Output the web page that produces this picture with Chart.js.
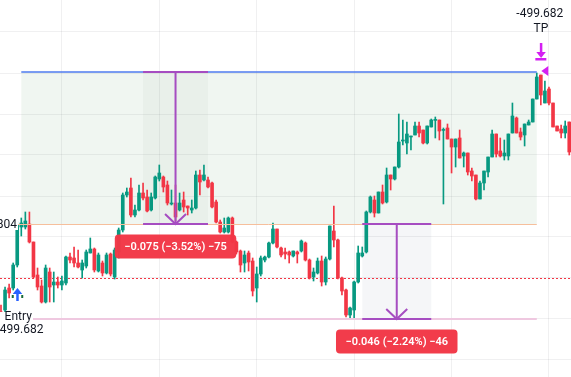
<!DOCTYPE html>
<html>
<head>
<meta charset="utf-8">
<script src="https://cdn.jsdelivr.net/npm/chart.js@4.4.1/dist/chart.umd.min.js"></script>
<style>
  html, body { margin: 0; padding: 0; background: #fff; overflow: hidden; }
  canvas { display: block; }
</style>
</head>
<body>
<canvas id="myChart" width="571" height="377"></canvas>
<script>
// candles (price per bar)
const openP = [
  2.044, 2.045, 2.056, 2.056, 2.0675, 2.0865, 2.0865, 2.088, 2.079, 2.0625,
  2.057, 2.049, 2.064, 2.0575, 2.059, 2.0575, 2.0585, 2.0715, 2.071, 2.0685,
  2.065, 2.067, 2.0735, 2.0755, 2.0645, 2.0685, 2.0635, 2.073, 2.0615, 2.074,
  2.085, 2.1025, 2.106, 2.0925, 2.095, 2.1035, 2.1015, 2.095, 2.101, 2.1105,
  2.1115, 2.1075, 2.098, 2.0985, 2.095, 2.100, 2.097, 2.095, 2.096, 2.1125,
  2.110, 2.110, 2.1085, 2.099, 2.089, 2.084, 2.084, 2.091, 2.079, 2.0745,
  2.0685, 2.0735, 2.0695, 2.056, 2.063, 2.070, 2.0715, 2.0785, 2.0855, 2.076,
  2.074, 2.074, 2.072, 2.074, 2.0745, 2.0785, 2.070, 2.0615, 2.0635, 2.0695,
  2.059, 2.0705, 2.0845, 2.080, 2.061, 2.055, 2.0425, 2.045, 2.059, 2.072,
  2.074, 2.094, 2.100, 2.0935, 2.104, 2.099, 2.1125, 2.1105, 2.1165, 2.1295,
  2.1285, 2.1315, 2.1325, 2.137, 2.135, 2.1285, 2.1365, 2.1398, 2.140, 2.1348,
  2.136, 2.1305, 2.1265, 2.131, 2.122, 2.1235, 2.1145, 2.1125, 2.1005, 2.1085,
  2.114, 2.1215, 2.133, 2.1245, 2.122, 2.122, 2.1335, 2.141, 2.134, 2.1325,
  2.1375, 2.139, 2.1505, 2.1625, 2.1485, 2.1555, 2.1485, 2.137, 2.1355, 2.1335,
  2.139
];
const highP = [
  2.0475, 2.0565, 2.058, 2.0685, 2.0895, 2.091, 2.094, 2.094, 2.079, 2.066,
  2.060, 2.0675, 2.066, 2.064, 2.0615, 2.062, 2.072, 2.0735, 2.0765, 2.075,
  2.070, 2.075, 2.081, 2.076, 2.0735, 2.0695, 2.0735, 2.0735, 2.076, 2.086,
  2.1035, 2.106, 2.111, 2.0975, 2.1075, 2.1085, 2.105, 2.1035, 2.112, 2.1175,
  2.112, 2.1095, 2.105, 2.1075, 2.1035, 2.104, 2.097, 2.100, 2.1145, 2.115,
  2.1175, 2.1115, 2.109, 2.100, 2.090, 2.091, 2.0915, 2.0915, 2.0795, 2.075,
  2.0745, 2.0745, 2.071, 2.0665, 2.072, 2.072, 2.079, 2.0885, 2.0855, 2.0765,
  2.076, 2.0745, 2.0745, 2.0745, 2.080, 2.079, 2.0705, 2.066, 2.071, 2.072,
  2.0715, 2.087, 2.097, 2.0805, 2.0615, 2.0555, 2.0465, 2.0595, 2.077, 2.0765,
  2.0945, 2.102, 2.102, 2.104, 2.1075, 2.116, 2.1125, 2.1165, 2.143, 2.140,
  2.139, 2.132, 2.139, 2.139, 2.135, 2.137, 2.1405, 2.1415, 2.140, 2.136,
  2.138, 2.1305, 2.1305, 2.135, 2.124, 2.1235, 2.116, 2.1125, 2.1095, 2.1145,
  2.1215, 2.135, 2.133, 2.131, 2.130, 2.133, 2.1485, 2.1415, 2.136, 2.138,
  2.140, 2.1505, 2.1635, 2.1625, 2.1595, 2.1565, 2.1485, 2.137, 2.1375, 2.1395,
  2.139
];
const lowP = [
  2.035, 2.044, 2.051, 2.055, 2.0665, 2.082, 2.0855, 2.0785, 2.061, 2.055,
  2.0485, 2.0485, 2.049, 2.049, 2.056, 2.055, 2.0575, 2.0685, 2.0665, 2.066,
  2.061, 2.066, 2.0735, 2.064, 2.064, 2.062, 2.063, 2.062, 2.0605, 2.071,
  2.084, 2.1015, 2.0915, 2.0915, 2.0945, 2.100, 2.094, 2.0945, 2.1005, 2.1095,
  2.104, 2.0975, 2.0975, 2.0895, 2.0945, 2.094, 2.0925, 2.0935, 2.0955, 2.1025,
  2.1095, 2.106, 2.096, 2.0885, 2.0835, 2.0835, 2.0835, 2.0785, 2.073, 2.064,
  2.064, 2.0645, 2.052, 2.049, 2.062, 2.069, 2.071, 2.078, 2.076, 2.0715,
  2.0705, 2.0685, 2.0715, 2.0685, 2.074, 2.0695, 2.0605, 2.0595, 2.063, 2.057,
  2.0575, 2.070, 2.0765, 2.0605, 2.0525, 2.0415, 2.0405, 2.0405, 2.0585, 2.0715,
  2.0735, 2.0935, 2.0915, 2.0935, 2.098, 2.0985, 2.105, 2.110, 2.116, 2.1275,
  2.123, 2.125, 2.1325, 2.1315, 2.128, 2.128, 2.1365, 2.131, 2.130, 2.098,
  2.1305, 2.1135, 2.1165, 2.121, 2.1165, 2.1125, 2.1095, 2.100, 2.1005, 2.105,
  2.1115, 2.1215, 2.1215, 2.1215, 2.120, 2.120, 2.1335, 2.1335, 2.130, 2.127,
  2.1375, 2.139, 2.1505, 2.1475, 2.1485, 2.1475, 2.1365, 2.1345, 2.131, 2.131,
  2.1225
];
const closeP = [
  2.041, 2.055, 2.0535, 2.0675, 2.0875, 2.0885, 2.0895, 2.079, 2.0615, 2.0565,
  2.049, 2.066, 2.0565, 2.059, 2.0575, 2.0595, 2.0715, 2.070, 2.0685, 2.0665,
  2.0685, 2.074, 2.0755, 2.065, 2.0725, 2.0635, 2.0725, 2.063, 2.075, 2.085,
  2.1025, 2.104, 2.0925, 2.095, 2.1035, 2.101, 2.0945, 2.1015, 2.1115, 2.1135,
  2.1065, 2.0985, 2.0985, 2.0915, 2.0985, 2.0965, 2.096, 2.096, 2.1125, 2.109,
  2.1125, 2.1065, 2.0965, 2.089, 2.084, 2.086, 2.091, 2.079, 2.074, 2.0675,
  2.0725, 2.069, 2.0545, 2.063, 2.071, 2.0715, 2.0785, 2.0855, 2.0765, 2.0725,
  2.073, 2.0725, 2.0745, 2.073, 2.0795, 2.070, 2.061, 2.064, 2.0695, 2.059,
  2.0705, 2.087, 2.080, 2.061, 2.0545, 2.0425, 2.046, 2.059, 2.0735, 2.0735,
  2.094, 2.1015, 2.0935, 2.104, 2.0985, 2.1125, 2.1105, 2.1165, 2.129, 2.130,
  2.133, 2.132, 2.137, 2.1335, 2.1285, 2.137, 2.140, 2.140, 2.1345, 2.135,
  2.1305, 2.1265, 2.1305, 2.121, 2.1235, 2.114, 2.112, 2.1005, 2.1085, 2.1145,
  2.1215, 2.133, 2.123, 2.122, 2.1235, 2.133, 2.142, 2.1335, 2.1315, 2.138,
  2.139, 2.1505, 2.1615, 2.1525, 2.1545, 2.1485, 2.1365, 2.1345, 2.1335, 2.137,
  2.124
];

// grid (time lines every 24 bars, price lines)
const gridBars = [15, 39, 63, 87, 111, 135];
const gridPrices = [2.020, 2.0405, 2.061, 2.0815, 2.102, 2.1225, 2.143, 2.1635, 2.184];

// long position + measures
const tpPrice = 2.164;
const entryPrice = 2.088;
const slPrice = 2.0405;
const lastPrice = 2.061;
const positionBars = [5, 132];
const measureFrom = [35, 89];
const measureTo = [51, 106];
const measureTop = [tpPrice, entryPrice];
const measureBottom = [entryPrice, slPrice];
const measureText = ['\u22120.075 (\u22123.52%) \u221275', '\u22120.046 (\u22122.24%) \u221246'];
const measureFill = ['rgba(60,90,70,0.035)', 'rgba(60,70,110,0.05)'];
const entryBar = 4;
const exitBar = 133;

const UP = '#089981', DOWN = '#f23645';
const PURPLE = '#a64dc1', MAGENTA = '#d41ff2', TEXT = '#131722';
const FONT = 'Roboto, "Noto Sans", sans-serif';

let idx = openP.map((o, i) => i);
let colors = idx.map(i => closeP[i] >= openP[i] ? UP : DOWN);

function arrowV(ctx, cx, by, w, h) {
  ctx.beginPath();
  ctx.moveTo(cx - w, by - h);
  ctx.lineTo(cx, by);
  ctx.lineTo(cx + w, by - h);
  ctx.stroke();
}

function roundRect(ctx, x, y, w, h, r) {
  ctx.beginPath();
  ctx.moveTo(x + r, y);
  ctx.arcTo(x + w, y, x + w, y + h, r);
  ctx.arcTo(x + w, y + h, x, y + h, r);
  ctx.arcTo(x, y + h, x, y, r);
  ctx.arcTo(x, y, x + w, y, r);
  ctx.closePath();
}

const drawings = {
  id: 'drawings',
  beforeDatasetsDraw(chart) {
    const ctx = chart.ctx;
    const X = v => chart.scales.x.getPixelForValue(v);
    const Y = v => chart.scales.y.getPixelForValue(v);
    ctx.save();
    // profit zone
    ctx.fillStyle = 'rgba(46,125,50,0.07)';
    ctx.fillRect(X(positionBars[0]), Y(tpPrice), X(positionBars[1]) - X(positionBars[0]), Y(entryPrice) - Y(tpPrice));
    // measure boxes
    for (let k = 0; k < measureFrom.length; k++) {
      ctx.fillStyle = measureFill[k];
      ctx.fillRect(X(measureFrom[k]), Y(measureTop[k]), X(measureTo[k]) - X(measureFrom[k]), Y(measureBottom[k]) - Y(measureTop[k]));
    }
    // last price dotted line
    ctx.strokeStyle = DOWN;
    ctx.lineWidth = 1;
    ctx.setLineDash([2, 2]);
    ctx.beginPath();
    ctx.moveTo(0, Math.round(Y(lastPrice)) + 0.5);
    ctx.lineTo(chart.width, Math.round(Y(lastPrice)) + 0.5);
    ctx.stroke();
    ctx.setLineDash([]);
    ctx.restore();
  },
  afterDatasetsDraw(chart) {
    const ctx = chart.ctx;
    const X = v => chart.scales.x.getPixelForValue(v);
    const Y = v => chart.scales.y.getPixelForValue(v);
    const x0 = X(positionBars[0]), x1 = X(positionBars[1]);
    ctx.save();

    // entry line
    ctx.strokeStyle = '#f6bf9c';
    ctx.lineWidth = 1;
    ctx.beginPath();
    ctx.moveTo(0, Math.round(Y(entryPrice)) + 0.5);
    ctx.lineTo(x1, Math.round(Y(entryPrice)) + 0.5);
    ctx.stroke();
    // stop line
    ctx.strokeStyle = '#efc8e0';
    ctx.lineWidth = 2;
    ctx.beginPath();
    ctx.moveTo(x0, Y(slPrice));
    ctx.lineTo(x1, Y(slPrice));
    ctx.stroke();
    // target line
    ctx.strokeStyle = '#4f7bef';
    ctx.lineWidth = 1.5;
    ctx.beginPath();
    ctx.moveTo(x0, Y(tpPrice));
    ctx.lineTo(x1, Y(tpPrice));
    ctx.stroke();

    // measures
    for (let k = 0; k < measureFrom.length; k++) {
      const a = X(measureFrom[k]), b = X(measureTo[k]);
      const t = Y(measureTop[k]), btm = Y(measureBottom[k]);
      const cx = (a + b) / 2;
      ctx.strokeStyle = PURPLE;
      ctx.lineWidth = 2;
      ctx.beginPath();
      ctx.moveTo(a, t); ctx.lineTo(b, t);
      ctx.moveTo(a, btm); ctx.lineTo(b, btm);
      ctx.moveTo(cx, t); ctx.lineTo(cx, btm);
      ctx.stroke();
      arrowV(ctx, cx, btm, 10.5, 10);

      ctx.font = '600 11px ' + FONT;
      const tw = ctx.measureText(measureText[k]).width;
      const w = tw + 19, h = 24, top = btm + 10.5;
      ctx.fillStyle = 'rgba(242,54,69,0.97)';
      roundRect(ctx, cx - w / 2, top, w, h, 4);
      ctx.fill();
      ctx.fillStyle = '#ffffff';
      ctx.textAlign = 'center';
      ctx.textBaseline = 'middle';
      ctx.fillText(measureText[k], cx, top + h / 2 + 0.5);
    }

    // exit marker (TP)
    const ex = X(exitBar), ty = Y(tpPrice);
    ctx.fillStyle = MAGENTA;
    ctx.beginPath();
    ctx.moveTo(ex + 0.5, ty - 1);
    ctx.lineTo(ex + 7.5, ty - 6);
    ctx.lineTo(ex + 7.5, ty + 4);
    ctx.closePath();
    ctx.fill();
    ctx.fillRect(ex - 1, ty - 29, 2.5, 12);
    ctx.beginPath();
    ctx.moveTo(ex - 4.5, ty - 20);
    ctx.lineTo(ex + 5, ty - 20);
    ctx.lineTo(ex + 0.25, ty - 14);
    ctx.closePath();
    ctx.fill();
    ctx.fillRect(ex - 5.5, ty - 14, 11, 2.5);
    ctx.fillStyle = TEXT;
    ctx.font = '12px ' + FONT;
    ctx.textAlign = 'center';
    ctx.textBaseline = 'middle';
    ctx.fillText('-499.682', ex - 1, ty - 58);
    ctx.fillText('TP', ex, ty - 43);

    // entry marker
    const nx = X(entryBar), ly = Y(lowP[3]);
    ctx.fillStyle = '#2962ff';
    ctx.beginPath();
    ctx.moveTo(nx + 0.25, ly - 2);
    ctx.lineTo(nx + 5, ly + 4);
    ctx.lineTo(nx - 4.5, ly + 4);
    ctx.closePath();
    ctx.fill();
    ctx.fillRect(nx - 1, ly + 3, 2.5, 8);
    ctx.fillStyle = '#1b6b3a';
    ctx.fillRect(nx - 5.5, ly + 5, 2, 3);
    ctx.fillRect(nx + 4, ly + 5, 2, 3);

    ctx.font = '12px ' + FONT;
    ctx.fillStyle = '#ffffff';
    ctx.fillRect(0, Y(slPrice) - 7, 33, 20);
    ctx.fillStyle = TEXT;
    ctx.textAlign = 'center';
    ctx.fillText('Entry', nx + 1, Y(slPrice) - 2);
    ctx.fillText('\u2212499.682', nx + 1, Y(slPrice) + 11);

    // left price tag on entry line
    ctx.fillStyle = '#ffffff';
    ctx.fillRect(0, Y(entryPrice) - 6, 18, 12);
    ctx.fillStyle = TEXT;
    ctx.textAlign = 'right';
    ctx.fillText('2.0804', 17, Y(entryPrice) + 1);

    ctx.restore();
  }
};

const ctx = document.getElementById('myChart').getContext('2d');
const chart = new Chart(ctx, {
  type: 'bar',
  data: {
    datasets: [
      {
        label: 'wicks',
        data: idx.map(i => ({ x: i, y: [lowP[i], highP[i]] })),
        backgroundColor: colors,
        barThickness: 1,
        grouped: false,
        order: 2
      },
      {
        label: 'bodies',
        data: idx.map(i => ({ x: i, y: [openP[i], closeP[i]] })),
        backgroundColor: colors,
        barThickness: 3,
        minBarLength: 1,
        grouped: false,
        order: 1
      }
    ]
  },
  options: {
    responsive: false,
    devicePixelRatio: 1,
    animation: false,
    layout: { padding: 0 },
    plugins: { legend: { display: false }, tooltip: { enabled: false } },
    scales: {
      x: {
        type: 'linear',
        min: -0.246,
        max: 140.43,
        offset: false,
        ticks: { display: false },
        grid: { color: 'rgba(42,46,57,0.07)', drawTicks: false, offset: false },
        border: { display: false },
        afterBuildTicks: s => { s.ticks = gridBars.map(v => ({ value: v })); }
      },
      y: {
        min: 2.0115,
        max: 2.2,
        ticks: { display: false },
        grid: { color: 'rgba(42,46,57,0.07)', drawTicks: false },
        border: { display: false },
        afterBuildTicks: s => { s.ticks = gridPrices.map(v => ({ value: v })); }
      }
    }
  },
  plugins: [drawings]
});
</script>
</body>
</html>
